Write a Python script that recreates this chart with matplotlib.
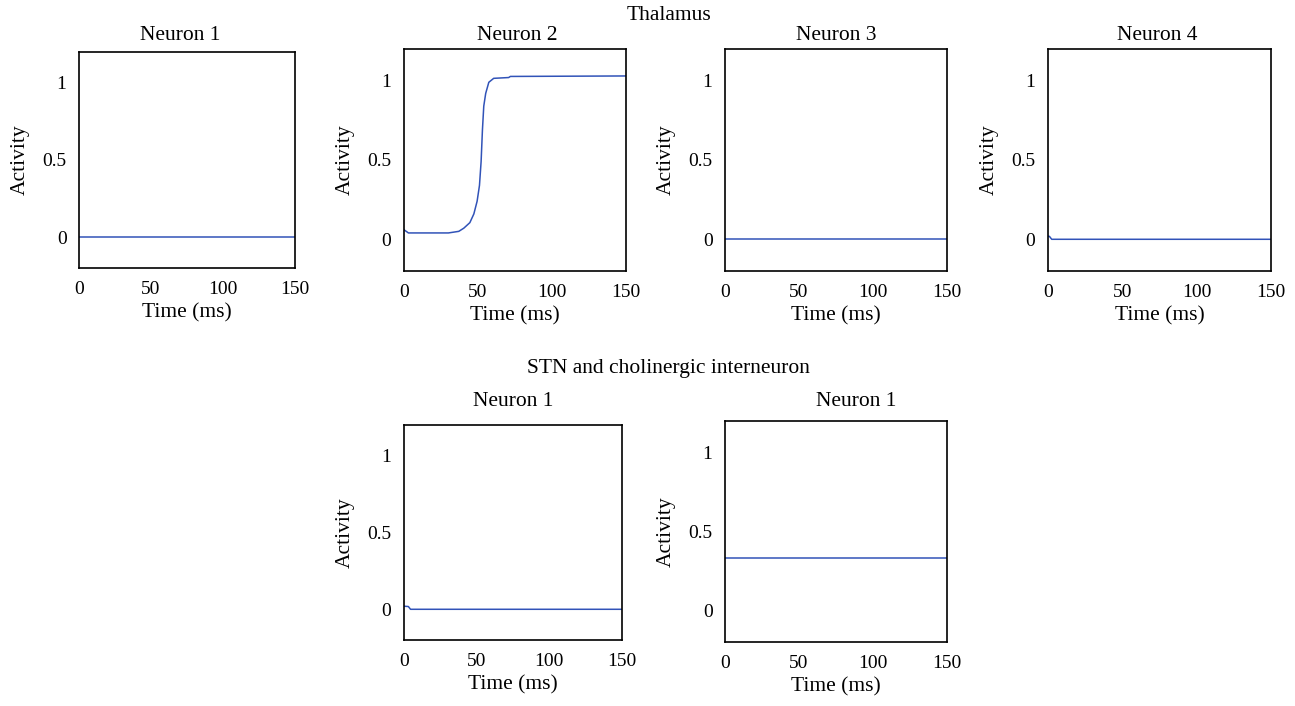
import matplotlib.pyplot as plt

plt.rcParams["font.family"] = ["Liberation Serif", "DejaVu Serif"]

# Thalamus neurons
thal_titles = ["Neuron 1", "Neuron 2", "Neuron 3", "Neuron 4"]
t_n1 = [0, 150]
y_n1 = [0.0, 0.0]
t_n2 = [0, 3, 30, 37, 40.4, 44.5, 47.2, 49.4, 51, 52.1, 53, 53.9, 55.2, 57.3, 60.6, 70.7, 71.9, 150]
y_n2 = [0.06, 0.04, 0.04, 0.05, 0.07, 0.105, 0.16, 0.24, 0.34, 0.49, 0.69, 0.84, 0.92, 0.99, 1.015, 1.02, 1.027, 1.03]
t_n3 = [0, 150]
y_n3 = [0.0, 0.0]
t_n4 = [0, 1, 2.5, 150]
y_n4 = [0.02, 0.018, 0.0, 0.0]

# STN and cholinergic interneuron
stn_titles = ["Neuron 1", "Neuron 1"]
t_stn = [0, 3, 4.5, 150]
y_stn = [0.02, 0.018, 0.0, 0.0]
t_ach = [0, 150]
y_ach = [0.33, 0.33]

W, H = 1295, 706
LINE = "#3153b8"
FS = 15.5


def px_axes(fig, left, top, right, bottom):
    return fig.add_axes([left / W, 1 - bottom / H, (right - left) / W, (bottom - top) / H])


def style(ax):
    ax.set_xlim(0, 150)
    ax.set_ylim(-0.2, 1.2)
    ax.set_xticks([0, 50, 100, 150])
    ax.set_yticks([0, 0.5, 1])
    ax.set_yticklabels(["0", "0.5", "1"])
    ax.tick_params(length=0, labelsize=14)
    ax.tick_params(axis="x", pad=9)
    ax.tick_params(axis="y", pad=9)
    for s in ax.spines.values():
        s.set_linewidth(1.2)
        s.set_color("black")
    ax.set_xlabel("Time (ms)", fontsize=FS, labelpad=4)
    ax.set_ylabel("Activity", fontsize=FS, labelpad=9)


fig = plt.figure(figsize=(W / 100, H / 100), dpi=100)

top_boxes = [(79, 52, 295, 268), (404, 49, 626, 271), (725, 49, 947, 271), (1048, 49, 1271, 271)]
top_title_pos = [(180, 36), (517, 36), (836, 36), (1157, 36)]
top_data = [(t_n1, y_n1), (t_n2, y_n2), (t_n3, y_n3), (t_n4, y_n4)]
for box, (t, y), title, (tx, ty) in zip(top_boxes, top_data, thal_titles, top_title_pos):
    ax = px_axes(fig, *box)
    ax.plot(t, y, color=LINE, lw=1.1)
    style(ax)
    fig.text(tx / W, 1 - ty / H, title, ha="center", va="center", fontsize=FS)

bot_boxes = [(404, 425, 622, 640), (725, 421, 947, 642)]
bot_title_pos = [(513, 401), (856, 401)]
bot_data = [(t_stn, y_stn), (t_ach, y_ach)]
for box, (t, y), title, (tx, ty) in zip(bot_boxes, bot_data, stn_titles, bot_title_pos):
    ax = px_axes(fig, *box)
    ax.plot(t, y, color=LINE, lw=1.1)
    style(ax)
    fig.text(tx / W, 1 - ty / H, title, ha="center", va="center", fontsize=FS)

fig.text(669 / W, 1 - 15 / H, "Thalamus", ha="center", va="center", fontsize=FS)
fig.text(668 / W, 1 - 368 / H, "STN and cholinergic interneuron", ha="center", va="center", fontsize=FS)

fig.savefig("out.png", dpi=100)
